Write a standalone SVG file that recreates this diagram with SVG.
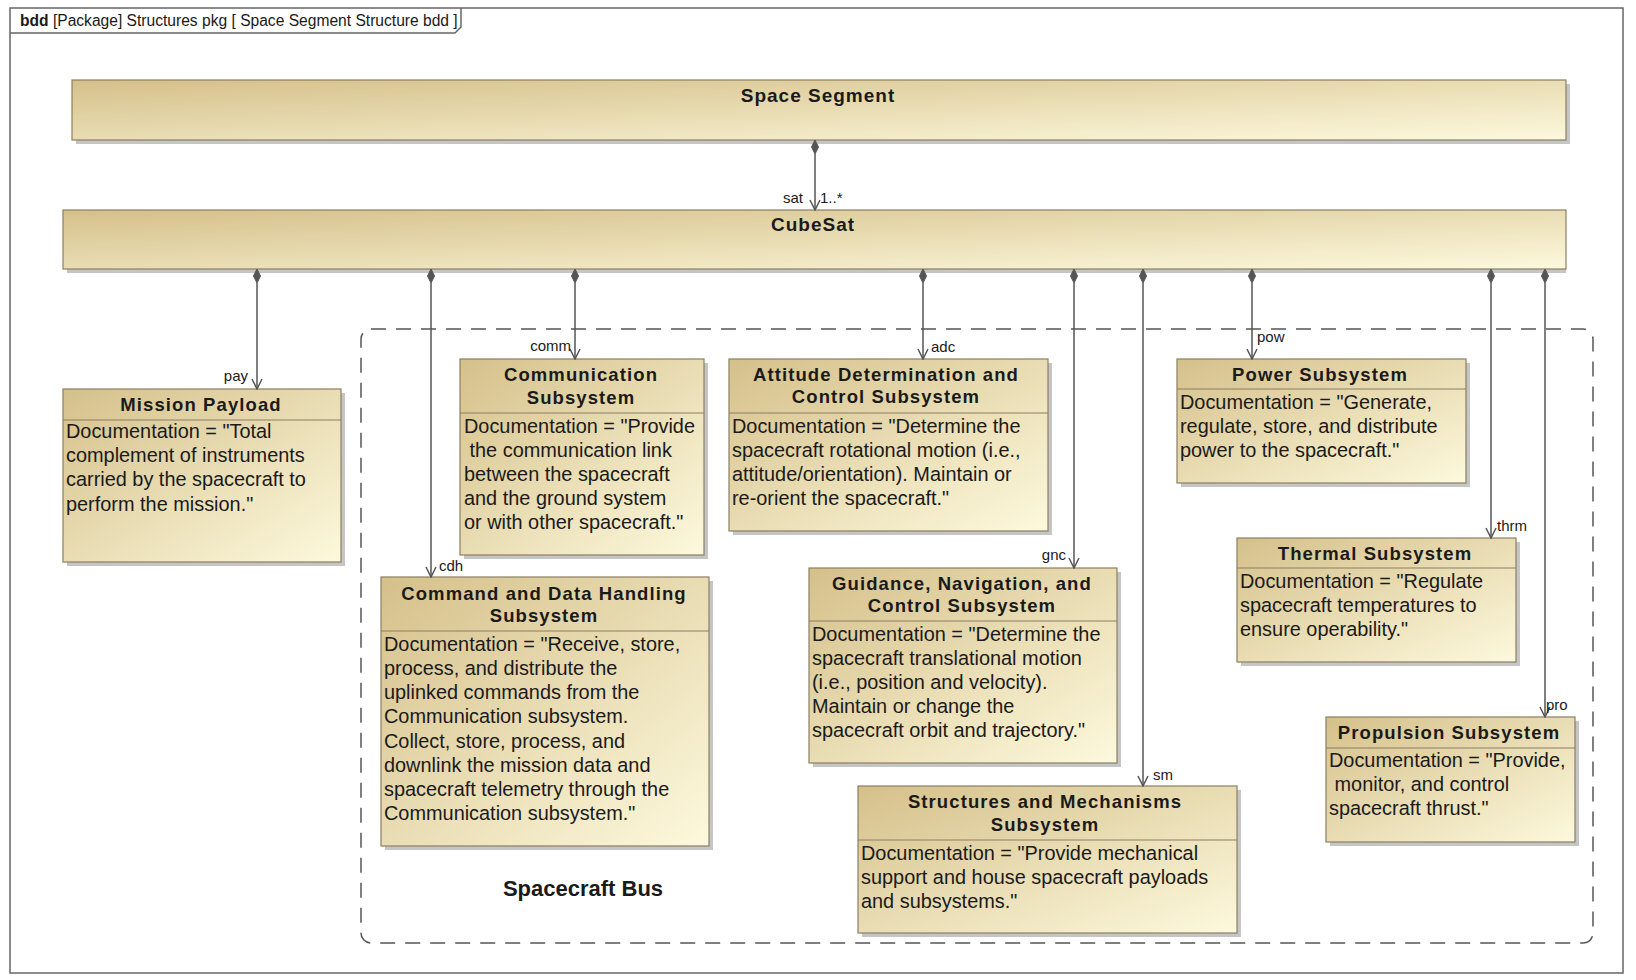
<svg xmlns="http://www.w3.org/2000/svg" width="1636" height="980" viewBox="0 0 1636 980">
<style>
text{font-family:"Liberation Sans",Arial,sans-serif;fill:#1a1a1a}
.hdr{font-size:15.6px}
.ttl{font-size:18.5px;font-weight:bold;letter-spacing:1.1px;text-anchor:middle}
.bar{font-size:19px;font-weight:bold;letter-spacing:1px;text-anchor:middle}
.doc{font-size:19.9px}
.lbl{font-size:15px}
.end{text-anchor:end}
.box{fill:url(#g);stroke:#8b7f62;stroke-width:1.2}
.shd{fill:#8c8c8c;opacity:0.5}
.sep{stroke:#8b7f62;stroke-width:1.2}
.con{stroke:#555;stroke-width:1.5;fill:none}
.dia{fill:#555;stroke:#555;stroke-width:1}
.pkg{fill:none;stroke:#555;stroke-width:1.5;stroke-dasharray:15 10}
.bus{font-size:22px;font-weight:bold;text-anchor:middle}
</style>
<defs>
<linearGradient id="g" x1="0" y1="0" x2="1" y2="1">
<stop offset="0" stop-color="#d5c08a"/>
<stop offset="1" stop-color="#fdf9dd"/>
</linearGradient>
<marker id="arr" viewBox="0 0 12 12" refX="11" refY="6" markerWidth="12" markerHeight="12" markerUnits="userSpaceOnUse" orient="auto">
<path d="M1,1 L11,6 L1,11" fill="none" stroke="#555" stroke-width="1.5"/>
</marker>
</defs>

<rect x="0" y="0" width="1636" height="980" fill="#fff"/>

<g id="frame">
<rect x="10" y="8" width="1613" height="965" fill="none" stroke="#666" stroke-width="1.5"/>
<path d="M10,33 L455,33 L461,27 L461,8" fill="none" stroke="#666" stroke-width="1.5"/>
<text class="hdr" x="20" y="26"><tspan font-weight="bold">bdd</tspan> [Package] Structures pkg [ Space Segment Structure bdd ]</text>
</g>

<g id="spacecraft-bus">
<rect class="pkg" x="361" y="329" width="1232" height="614" rx="10" ry="10"/>
<text class="bus" x="583" y="896">Spacecraft Bus</text>
</g>

<g id="space-segment">
<rect class="shd" x="76" y="84" width="1494" height="60"/>
<rect class="box" x="72" y="80" width="1494" height="60"/>
<text class="bar" x="818" y="102">Space Segment</text>
</g>

<g id="cubesat">
<rect class="shd" x="67" y="214" width="1499" height="59"/>
<rect class="box" x="63" y="210" width="1503" height="59"/>
<text class="bar" x="813" y="231">CubeSat</text>
</g>

<g id="mission-payload">
<rect class="shd" x="67" y="393" width="278" height="173"/>
<rect class="box" x="63" y="389" width="278" height="173"/>
<line class="sep" x1="63" y1="420" x2="341" y2="420"/>
<text class="ttl" x="201" y="411">Mission Payload</text>
<text class="doc" x="66" y="438">Documentation = "Total</text>
<text class="doc" x="66" y="462">complement of instruments</text>
<text class="doc" x="66" y="486">carried by the spacecraft to</text>
<text class="doc" x="66" y="511">perform the mission."</text>
</g>

<g id="communication">
<rect class="shd" x="464" y="363" width="244" height="196"/>
<rect class="box" x="460" y="359" width="244" height="196"/>
<line class="sep" x1="460" y1="413" x2="704" y2="413"/>
<text class="ttl" x="581" y="381">Communication</text>
<text class="ttl" x="581" y="404">Subsystem</text>
<text class="doc" x="464" y="433">Documentation = "Provide</text>
<text class="doc" x="464" y="457" xml:space="preserve"> the communication link</text>
<text class="doc" x="464" y="481">between the spacecraft</text>
<text class="doc" x="464" y="505">and the ground system</text>
<text class="doc" x="464" y="529">or with other spacecraft."</text>
</g>

<g id="cdh">
<rect class="shd" x="385" y="581" width="328" height="269"/>
<rect class="box" x="381" y="577" width="328" height="269"/>
<line class="sep" x1="381" y1="631" x2="709" y2="631"/>
<text class="ttl" x="544" y="600">Command and Data Handling</text>
<text class="ttl" x="544" y="622">Subsystem</text>
<text class="doc" x="384" y="651">Documentation = "Receive, store,</text>
<text class="doc" x="384" y="675">process, and distribute the</text>
<text class="doc" x="384" y="699">uplinked commands from the</text>
<text class="doc" x="384" y="723">Communication subsystem.</text>
<text class="doc" x="384" y="748">Collect, store, process, and</text>
<text class="doc" x="384" y="772">downlink the mission data and</text>
<text class="doc" x="384" y="796">spacecraft telemetry through the</text>
<text class="doc" x="384" y="820">Communication subsystem."</text>
</g>

<g id="adc">
<rect class="shd" x="733" y="363" width="319" height="172"/>
<rect class="box" x="729" y="359" width="319" height="172"/>
<line class="sep" x1="729" y1="413" x2="1048" y2="413"/>
<text class="ttl" x="886" y="381">Attitude Determination and</text>
<text class="ttl" x="886" y="403">Control Subsystem</text>
<text class="doc" x="732" y="433">Documentation = "Determine the</text>
<text class="doc" x="732" y="457">spacecraft rotational motion (i.e.,</text>
<text class="doc" x="732" y="481">attitude/orientation). Maintain or</text>
<text class="doc" x="732" y="505">re-orient the spacecraft."</text>
</g>

<g id="gnc">
<rect class="shd" x="813" y="572" width="308" height="195"/>
<rect class="box" x="809" y="568" width="308" height="195"/>
<line class="sep" x1="809" y1="621" x2="1117" y2="621"/>
<text class="ttl" x="962" y="590">Guidance, Navigation, and</text>
<text class="ttl" x="962" y="612">Control Subsystem</text>
<text class="doc" x="812" y="641">Documentation = "Determine the</text>
<text class="doc" x="812" y="665">spacecraft translational motion</text>
<text class="doc" x="812" y="689">(i.e., position and velocity).</text>
<text class="doc" x="812" y="713">Maintain or change the</text>
<text class="doc" x="812" y="737">spacecraft orbit and trajectory."</text>
</g>

<g id="structures">
<rect class="shd" x="862" y="790" width="379" height="147"/>
<rect class="box" x="858" y="786" width="379" height="147"/>
<line class="sep" x1="858" y1="840" x2="1237" y2="840"/>
<text class="ttl" x="1045" y="808">Structures and Mechanisms</text>
<text class="ttl" x="1045" y="831">Subsystem</text>
<text class="doc" x="861" y="860">Documentation = "Provide mechanical</text>
<text class="doc" x="861" y="884">support and house spacecraft payloads</text>
<text class="doc" x="861" y="908">and subsystems."</text>
</g>

<g id="power">
<rect class="shd" x="1181" y="363" width="289" height="124"/>
<rect class="box" x="1177" y="359" width="289" height="124"/>
<line class="sep" x1="1177" y1="389" x2="1466" y2="389"/>
<text class="ttl" x="1320" y="381">Power Subsystem</text>
<text class="doc" x="1180" y="409">Documentation = "Generate,</text>
<text class="doc" x="1180" y="433">regulate, store, and distribute</text>
<text class="doc" x="1180" y="457">power to the spacecraft."</text>
</g>

<g id="thermal">
<rect class="shd" x="1241" y="542" width="279" height="124"/>
<rect class="box" x="1237" y="538" width="279" height="124"/>
<line class="sep" x1="1237" y1="568" x2="1516" y2="568"/>
<text class="ttl" x="1375" y="560">Thermal Subsystem</text>
<text class="doc" x="1240" y="588">Documentation = "Regulate</text>
<text class="doc" x="1240" y="612">spacecraft temperatures to</text>
<text class="doc" x="1240" y="636">ensure operability."</text>
</g>

<g id="propulsion">
<rect class="shd" x="1330" y="721" width="249" height="125"/>
<rect class="box" x="1326" y="717" width="249" height="125"/>
<line class="sep" x1="1326" y1="748" x2="1575" y2="748"/>
<text class="ttl" x="1449" y="739">Propulsion Subsystem</text>
<text class="doc" x="1329" y="767">Documentation = "Provide,</text>
<text class="doc" x="1329" y="791" xml:space="preserve"> monitor, and control</text>
<text class="doc" x="1329" y="815">spacecraft thrust."</text>
</g>

<g id="connectors">
<line class="con" x1="815" y1="154" x2="815" y2="210" marker-end="url(#arr)"/>
<path class="dia" d="M815,140 L818.5,147 L815,154 L811.5,147 Z"/>
<text class="lbl end" x="803" y="203">sat</text>
<text class="lbl" x="820" y="203">1..*</text>

<line class="con" x1="257" y1="283" x2="257" y2="389" marker-end="url(#arr)"/>
<path class="dia" d="M257,269 L260.5,276 L257,283 L253.5,276 Z"/>
<text class="lbl end" x="248" y="381">pay</text>

<line class="con" x1="431" y1="283" x2="431" y2="577" marker-end="url(#arr)"/>
<path class="dia" d="M431,269 L434.5,276 L431,283 L427.5,276 Z"/>
<text class="lbl" x="439" y="571">cdh</text>

<line class="con" x1="575" y1="283" x2="575" y2="359" marker-end="url(#arr)"/>
<path class="dia" d="M575,269 L578.5,276 L575,283 L571.5,276 Z"/>
<text class="lbl end" x="571" y="351">comm</text>

<line class="con" x1="923" y1="283" x2="923" y2="359" marker-end="url(#arr)"/>
<path class="dia" d="M923,269 L926.5,276 L923,283 L919.5,276 Z"/>
<text class="lbl" x="931" y="352">adc</text>

<line class="con" x1="1074" y1="283" x2="1074" y2="568" marker-end="url(#arr)"/>
<path class="dia" d="M1074,269 L1077.5,276 L1074,283 L1070.5,276 Z"/>
<text class="lbl end" x="1066" y="560">gnc</text>

<line class="con" x1="1143" y1="283" x2="1143" y2="786" marker-end="url(#arr)"/>
<path class="dia" d="M1143,269 L1146.5,276 L1143,283 L1139.5,276 Z"/>
<text class="lbl" x="1153" y="780">sm</text>

<line class="con" x1="1252" y1="283" x2="1252" y2="359" marker-end="url(#arr)"/>
<path class="dia" d="M1252,269 L1255.5,276 L1252,283 L1248.5,276 Z"/>
<text class="lbl" x="1257" y="342">pow</text>

<line class="con" x1="1491" y1="283" x2="1491" y2="538" marker-end="url(#arr)"/>
<path class="dia" d="M1491,269 L1494.5,276 L1491,283 L1487.5,276 Z"/>
<text class="lbl" x="1497" y="531">thrm</text>

<line class="con" x1="1545" y1="283" x2="1545" y2="717" marker-end="url(#arr)"/>
<path class="dia" d="M1545,269 L1548.5,276 L1545,283 L1541.5,276 Z"/>
<text class="lbl" x="1546" y="710">pro</text>
</g>
</svg>
